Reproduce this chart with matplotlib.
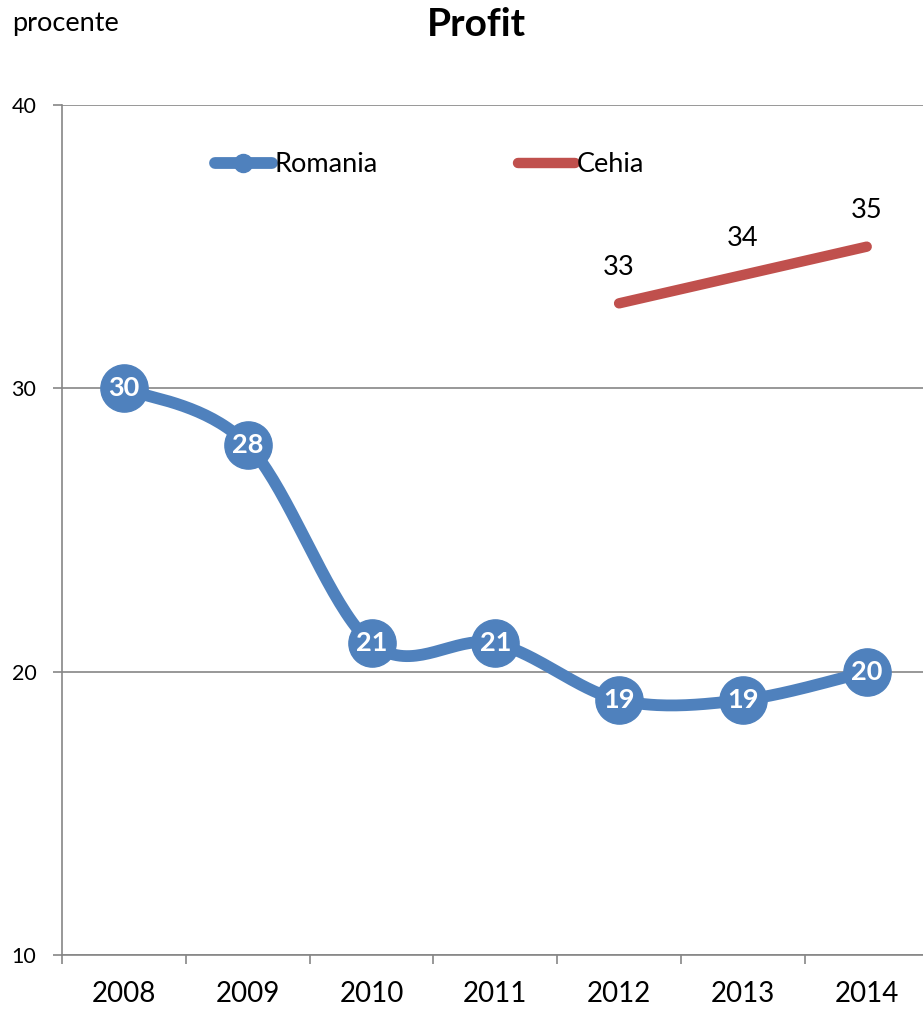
import numpy as np
import matplotlib
matplotlib.use("Agg")
import matplotlib.pyplot as plt
from matplotlib.lines import Line2D

plt.rcParams['font.family'] = ['Lato', 'DejaVu Sans']

years = ['2008', '2009', '2010', '2011', '2012', '2013', '2014']
romania = [30, 28, 21, 21, 19, 19, 20]
cehia_years = ['2012', '2013', '2014']
cehia = [33, 34, 35]
y_ticks = [10, 20, 30, 40]

BLUE = '#4F81BD'
RED = '#C0504D'
GRAY = '#868686'


def catmull_rom(xs, ys, n=40):
    xs = np.asarray(xs, float)
    ys = np.asarray(ys, float)
    px = np.concatenate([[xs[0]], xs, [xs[-1]]])
    py = np.concatenate([[ys[0]], ys, [ys[-1]]])
    outx, outy = [], []
    t = np.linspace(0, 1, n)
    for i in range(1, len(px) - 2):
        p0x, p1x, p2x, p3x = px[i - 1], px[i], px[i + 1], px[i + 2]
        p0y, p1y, p2y, p3y = py[i - 1], py[i], py[i + 1], py[i + 2]
        c1x = p1x + (p2x - p0x) / 6
        c1y = p1y + (p2y - p0y) / 6
        c2x = p2x - (p3x - p1x) / 6
        c2y = p2y - (p3y - p1y) / 6
        bx = (1 - t) ** 3 * p1x + 3 * (1 - t) ** 2 * t * c1x + 3 * (1 - t) * t ** 2 * c2x + t ** 3 * p2x
        by = (1 - t) ** 3 * p1y + 3 * (1 - t) ** 2 * t * c1y + 3 * (1 - t) * t ** 2 * c2y + t ** 3 * p2y
        outx.extend(bx)
        outy.extend(by)
    return np.array(outx), np.array(outy)


fig = plt.figure(figsize=(9.23, 10.10), dpi=100)
ax = fig.add_axes([62 / 923, 55 / 1010, 866.6 / 923, 850 / 1010])

xr = np.arange(len(years))
xc = np.array([years.index(y) for y in cehia_years])

sx, sy = catmull_rom(xr, romania)
ax.plot(sx, sy, color=BLUE, lw=8.5, solid_capstyle='round', zorder=3)
ax.plot(xr, romania, linestyle='none', marker='o', ms=34, color=BLUE,
        mec=BLUE, zorder=4)
for x, v in zip(xr, romania):
    ax.text(x, v, str(v), color='white', fontsize=19.5, fontweight='bold',
            ha='center', va='center', zorder=5)

ax.plot(xc, cehia, color=RED, lw=7.5, solid_capstyle='round', zorder=3)
for x, v in zip(xc, cehia):
    ax.annotate(str(v), (x, v), xytext=(0, 26), textcoords='offset points',
                ha='center', va='center', fontsize=19.5, color='black')

h1 = Line2D([], [], color=BLUE, lw=8.5, marker='o', ms=13, solid_capstyle='round')
h2 = Line2D([], [], color=RED, lw=7.5, solid_capstyle='round')
leg = ax.legend([h1, h2], ['Romania', 'Cehia'], ncol=2, frameon=False,
                loc='center left', bbox_to_anchor=((215 - 62) / 866.6, (955 - 165) / 850),
                borderpad=0, borderaxespad=0,
                handlelength=2.1, handletextpad=0.08, columnspacing=5.2,
                fontsize=19.5)

ax.set_xlim(-0.5, 6.5)
ax.set_ylim(10, 40)
ax.set_yticks(y_ticks)
ax.set_yticklabels([str(v) for v in y_ticks], fontsize=15.5)
ax.set_xticks(xr)
ax.set_xticklabels(years, fontsize=20)
ax.set_xticks(np.arange(-0.5, 6.6, 1), minor=True)
ax.tick_params(axis='x', which='major', length=0, pad=19)
ax.tick_params(axis='x', which='minor', length=6.5, color=GRAY, width=1.2, direction='out')
ax.tick_params(axis='y', length=6.5, color=GRAY, width=1.2, pad=12)

ax.grid(axis='y', color=GRAY, lw=1.2, zorder=0)
ax.set_axisbelow(True)
for s in ['top', 'right']:
    ax.spines[s].set_visible(False)
for s in ['left', 'bottom']:
    ax.spines[s].set_color(GRAY)
    ax.spines[s].set_linewidth(1.2)

fig.text(476 / 923, 1 - 24 / 1010, 'Profit', ha='center', va='center',
         fontsize=28, fontweight='bold')
fig.text(12 / 923, 1 - 24 / 1010, 'procente', ha='left', va='center',
         fontsize=19.5)

fig.savefig('out.png', dpi=100)
